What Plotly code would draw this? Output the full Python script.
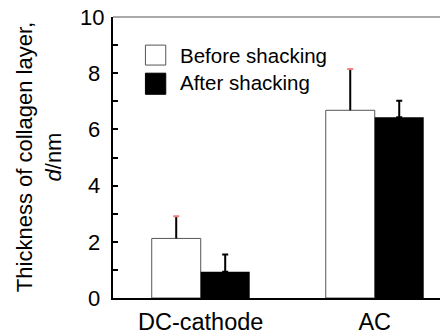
import plotly.graph_objects as go

categories = ["DC-cathode", "AC"]
before_vals = [2.12, 6.68]
before_err = [0.79, 1.47]
after_vals = [0.93, 6.43]
after_err = [0.62, 0.59]
series_names = ["Before shacking", "After shacking"]
y_ticks = [0, 2, 4, 6, 8, 10]
y_title = "Thickness of collagen layer,<br><i>d</i>/nm"

FONT = "Liberation Sans, Arial, sans-serif"
zeros = [0] * len(categories)

fig = go.Figure()

# Before shacking: white bars with black error stem (no cap)
fig.add_trace(go.Bar(
    x=categories, y=before_vals, name=series_names[0], offsetgroup="b",
    marker=dict(color="white", line=dict(color="#555555", width=1)),
    error_y=dict(type="data", array=before_err, arrayminus=zeros, symmetric=False,
                 color="black", thickness=2, width=0),
    showlegend=False,
))
# pink caps on the "before" error bars: invisible bar spanning value..value+err,
# zero-length error bar at its end draws only the cap
fig.add_trace(go.Bar(
    x=categories, y=before_err, base=before_vals, offsetgroup="b",
    marker=dict(color="rgba(0,0,0,0)", line=dict(width=0)),
    error_y=dict(type="data", array=zeros, arrayminus=zeros, symmetric=False,
                 color="#f08080", thickness=2, width=3),
    showlegend=False, hoverinfo="skip",
))
# After shacking: black bars, black capped error bars
fig.add_trace(go.Bar(
    x=categories, y=after_vals, name=series_names[1], offsetgroup="a",
    marker=dict(color="black", line=dict(color="black", width=0)),
    error_y=dict(type="data", array=after_err, arrayminus=zeros, symmetric=False,
                 color="black", thickness=2, width=3),
    showlegend=False,
))

# page body has an 8px margin, so the figure is sized/offset to fill the window
fig.update_layout(
    width=440, height=324,
    margin=dict(l=105, r=0, t=9, b=34),
    paper_bgcolor="white", plot_bgcolor="white",
    barmode="group", bargap=0.437, bargroupgap=0,
    font=dict(family=FONT, color="black"),
    showlegend=False,
)

fig.update_xaxes(
    range=[-0.504, 1.421], automargin=False,
    showline=True, linecolor="black", linewidth=2,
    ticks="", showgrid=False, zeroline=False,
    ticklabelstandoff=2,
    tickfont=dict(size=23.5, family=FONT, color="black"),
)
# single-digit labels get a thin-space pad so labels sit roughly centred like the original
fig.update_yaxes(
    range=[0, 10], tickvals=y_ticks, automargin=False,
    ticktext=[str(v) if v >= 10 else str(v) + "\u2009" for v in y_ticks],
    showline=True, linecolor="black", linewidth=2,
    ticks="inside", ticklen=5, tickwidth=1.5, tickcolor="black",
    minor=dict(ticks="inside", dtick=1, ticklen=5, tickwidth=1.5, tickcolor="black"),
    showgrid=False, zeroline=False,
    ticklabeloverflow="allow", ticklabelstandoff=2,
    tickfont=dict(size=22, family=FONT, color="black"),
)

# y-axis title as rotated annotation
fig.add_annotation(xref="paper", yref="paper", x=-0.222, y=0.5, text=y_title,
                   textangle=-90, showarrow=False, xanchor="center", yanchor="middle",
                   font=dict(size=22, family=FONT, color="black"))

# top frame line
fig.add_shape(type="line", xref="paper", yref="paper", x0=0, x1=1, y0=1, y1=1,
              line=dict(color="#555555", width=1))

# legend drawn manually
leg = [("white", "#555555", 0.900, 0.829, 0.862, series_names[0]),
       ("black", "black", 0.800, 0.725, 0.768, series_names[1])]
for fill, edge, ytop, ybot, ytxt, label in leg:
    fig.add_shape(type="rect", xref="paper", yref="paper", x0=0.0968, x1=0.1575,
                  y0=ybot, y1=ytop, fillcolor=fill, line=dict(color=edge, width=1))
    fig.add_annotation(xref="paper", yref="paper", x=0.194, y=ytxt, text=label,
                       showarrow=False, xanchor="left", yanchor="middle",
                       font=dict(size=20.5, family=FONT, color="black"))

fig.write_html("out.html")
